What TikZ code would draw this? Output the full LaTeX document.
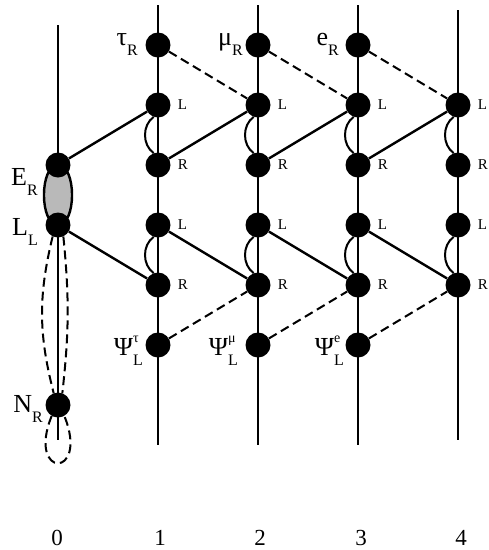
\documentclass[tikz,border=0pt]{standalone}
\usepackage{fontspec}
\setmainfont{Liberation Serif}
\usetikzlibrary{positioning,backgrounds}

% particle name with sub- and superscript
\newcommand{\fermion}[3]{\fontsize{26}{26}\selectfont#1\rlap{\raisebox{13pt}{\fontsize{14}{14}\selectfont#3}}\raisebox{-10pt}{\fontsize{16}{16}\selectfont#2}}

\begin{document}
\begin{tikzpicture}[x=1pt,y=1pt,node distance=60pt,on grid,
    vtx/.style={circle,fill=black,inner sep=0pt,minimum size=25pt},
    chir/.style={font=\fontsize{15}{15}\selectfont,inner sep=0pt,label distance=7pt},
    wire/.style={line width=2.4pt},
    weak/.style={line width=2pt,dash pattern=on 9pt off 5pt},
    mix/.style={line width=2pt,bend right=55},
    gen/.style={anchor=base east,inner sep=0pt},
    site/.style={font=\fontsize{23}{23}\selectfont,inner sep=0pt}]
  \useasboundingbox (0,0) rectangle (489,-550);

  % generation 0
  \node[vtx] (ER) at (58,-165) {};
  \node[vtx] (LL) [below=of ER] {};
  \node[vtx] (NR) at (58,-405) {};

  % generations 1--4
  \foreach \i/\x in {1/158,2/258,3/358,4/458} {
    \node[vtx,label={[chir]right:L}] (Lu\i) at (\x,-105) {};
    \node[vtx,label={[chir]right:R}] (Ru\i) [below=of Lu\i] {};
    \node[vtx,label={[chir]right:L}] (Ld\i) [below=of Ru\i] {};
    \node[vtx,label={[chir]right:R}] (Rd\i) [below=of Ld\i] {};
  }
  \node[vtx] (tauR) [above=of Lu1] {};
  \node[vtx] (muR)  [above=of Lu2] {};
  \node[vtx] (eR)   [above=of Lu3] {};
  \node[vtx] (psi1) [below=of Rd1] {};
  \node[vtx] (psi2) [below=of Rd2] {};
  \node[vtx] (psi3) [below=of Rd3] {};

  \begin{scope}[on background layer]
    \foreach \i/\x/\t/\b in {0/58/25/440,1/158/5/445,2/258/5/445,3/358/5/445,4/458/10/440} {
      \coordinate (top\i) at (\x,-\t);
      \coordinate (bot\i) at (\x,-\b);
      \draw[wire] (top\i) -- (bot\i);
    }
    \draw[wire,fill=gray!55] (ER.center) to[bend right=90,looseness=0.8] (LL.center)
      to[bend right=90,looseness=0.8] (ER.center) -- cycle;
  \end{scope}

  % neutrino loop
  \draw[weak] (LL.-115) to[bend right=14] (NR.110);
  \draw[weak] (LL.-65) to[bend left=6] (NR.70);
  \draw[weak] (NR.-120) .. controls +(-112:68) and +(-68:68) .. (NR.-60);

  % links
  \draw[wire] (ER) -- (Lu1);
  \draw[wire] (LL) -- (Rd1);
  \foreach \i/\j in {1/2,2/3,3/4} {
    \draw[wire] (Ru\i) -- (Lu\j);
    \draw[wire] (Ld\i) -- (Rd\j);
    \draw[weak] (psi\i) -- (Rd\j);
  }
  \draw[weak] (tauR) -- (Lu2);
  \draw[weak] (muR) -- (Lu3);
  \draw[weak] (eR) -- (Lu4);
  \foreach \i in {1,...,4} {
    \draw[mix] (Lu\i.-110) to (Ru\i.110);
    \draw[mix] (Ld\i.-110) to (Rd\i.110);
  }

  % names
  \node[gen] (tauRlab) at (138,-45) {\fermion{τ}{R}{}};
  \node[gen] (muRlab) at (243,-45) {\fermion{μ}{R}{}};
  \node[gen] (eRlab) at (339,-45) {\fermion{e}{R}{}};
  \node[gen] (ERlab) at (38,-185) {\fermion{E}{R}{}};
  \node[gen] (LLlab) at (38,-235) {\fermion{L}{L}{}};
  \node[gen] (NRlab) at (43,-412) {\fermion{N}{R}{}};
  \node[gen] (psi1lab) at (143,-355) {\fermion{Ψ}{L}{τ}};
  \node[gen] (psi2lab) at (238,-355) {\fermion{Ψ}{L}{μ}};
  \node[gen] (psi3lab) at (344,-355) {\fermion{Ψ}{L}{e}};

  % sites
  \node[site] (c0) at (57,-538) {0};
  \node[site] (c1) at (160,-538) {1};
  \node[site] (c2) at (260,-538) {2};
  \node[site] (c3) at (361,-538) {3};
  \node[site] (c4) at (461,-538) {4};
\end{tikzpicture}
\end{document}
